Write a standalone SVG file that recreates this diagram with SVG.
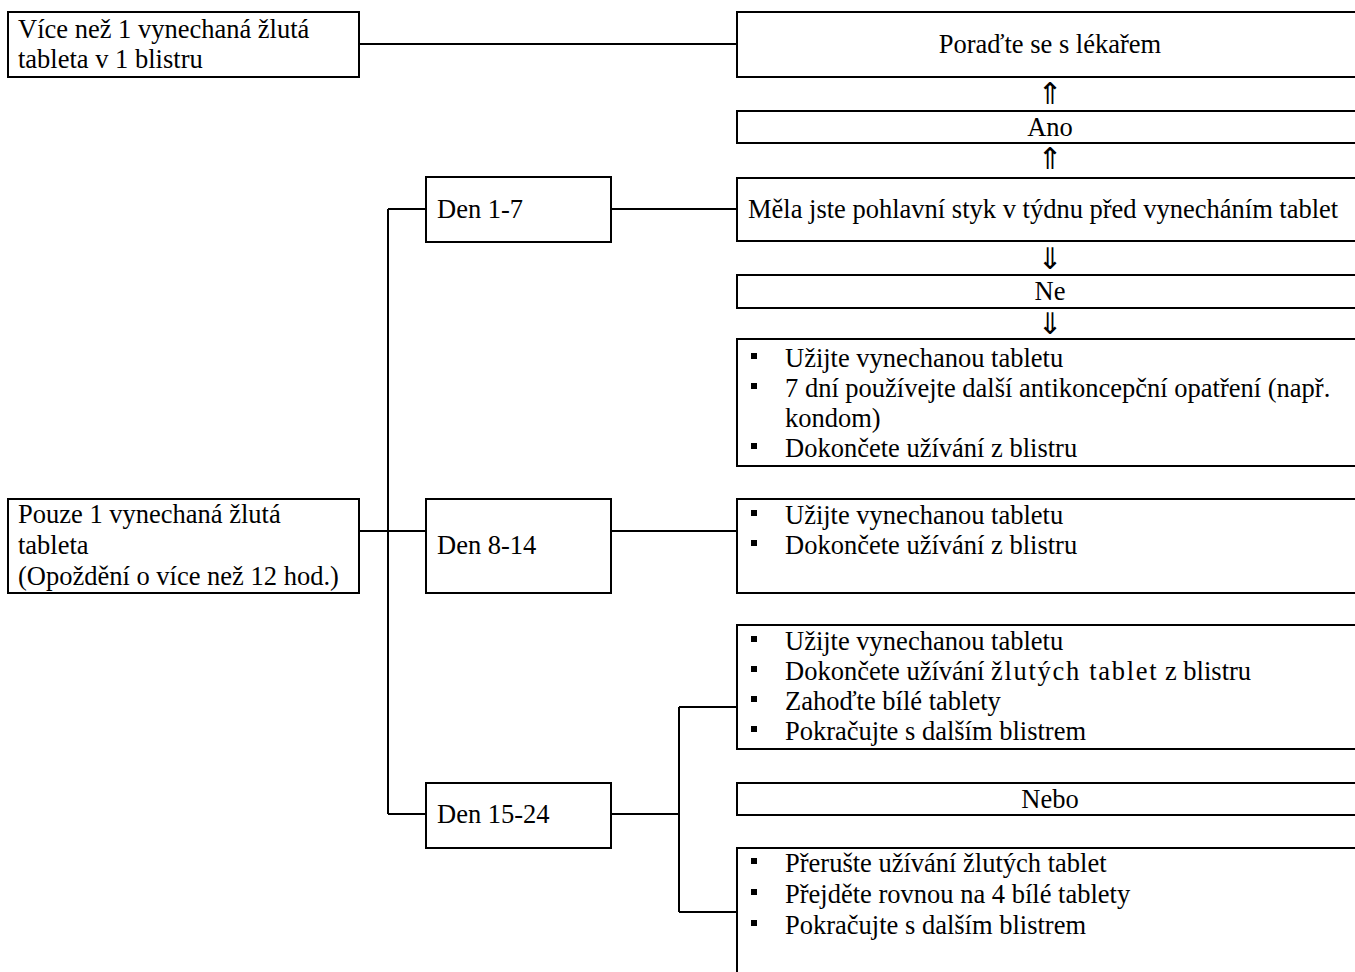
<svg xmlns="http://www.w3.org/2000/svg" width="1355" height="972" viewBox="0 0 1355 972">
<style>
.box{fill:#fff;stroke:#000;stroke-width:2}
.t{font-family:"Liberation Serif","Times New Roman",serif;font-size:26.5px;fill:#000}
.c{text-anchor:middle}
.arr{font-family:"DejaVu Sans",sans-serif;font-size:30px;fill:#000;text-anchor:middle}
.ln{stroke:#000;stroke-width:2;fill:none}
</style>
<defs>
<rect id="b" width="6" height="6" fill="#000"/>
</defs>
<rect width="1355" height="972" fill="#fff"/>
<g id="connectors">
<line class="ln" x1="359" y1="44" x2="737" y2="44"/>
<line class="ln" x1="388" y1="209" x2="388" y2="814"/>
<line class="ln" x1="388" y1="209" x2="426" y2="209"/>
<line class="ln" x1="359" y1="531" x2="426" y2="531"/>
<line class="ln" x1="388" y1="814" x2="426" y2="814"/>
<line class="ln" x1="611" y1="209" x2="737" y2="209"/>
<line class="ln" x1="611" y1="531" x2="737" y2="531"/>
<line class="ln" x1="611" y1="814" x2="679" y2="814"/>
<line class="ln" x1="679" y1="707" x2="679" y2="912"/>
<line class="ln" x1="679" y1="707" x2="737" y2="707"/>
<line class="ln" x1="679" y1="912" x2="737" y2="912"/>
</g>
<g id="n-more">
<rect class="box" x="8" y="12" width="351" height="65"/>
<text class="t" x="18" y="38">Více než 1 vynechaná žlutá</text>
<text class="t" x="18" y="68">tableta v 1 blistru</text>
</g>
<g id="n-doctor">
<rect class="box" x="737" y="12" width="640" height="65"/>
<text class="t c" x="1050" y="53">Poraďte se s lékařem</text>
</g>
<text class="arr" x="1050" y="104">⇑</text>
<g id="n-ano">
<rect class="box" x="737" y="111" width="640" height="32"/>
<text class="t c" x="1050" y="136">Ano</text>
</g>
<text class="arr" x="1050" y="169">⇑</text>
<g id="n-question">
<rect class="box" x="737" y="178" width="640" height="63"/>
<text class="t" x="748" y="218">Měla jste pohlavní styk v týdnu před vynecháním tablet</text>
</g>
<text class="arr" x="1050" y="269">⇓</text>
<g id="n-ne">
<rect class="box" x="737" y="275" width="640" height="33"/>
<text class="t c" x="1050" y="300">Ne</text>
</g>
<text class="arr" x="1050" y="334">⇓</text>
<g id="n-list1">
<rect class="box" x="737" y="339" width="640" height="127"/>
<use href="#b" x="751" y="353"/>
<text class="t" x="785" y="367">Užijte vynechanou tabletu</text>
<use href="#b" x="751" y="383"/>
<text class="t" x="785" y="397">7 dní používejte další antikoncepční opatření (např.</text>
<text class="t" x="785" y="427">kondom)</text>
<use href="#b" x="751" y="443"/>
<text class="t" x="785" y="457">Dokončete užívání z blistru</text>
</g>
<g id="n-d1">
<rect class="box" x="426" y="177" width="185" height="65"/>
<text class="t" x="437" y="218">Den 1-7</text>
</g>
<g id="n-only">
<rect class="box" x="8" y="499" width="351" height="94"/>
<text class="t" x="18" y="523">Pouze 1 vynechaná žlutá</text>
<text class="t" x="18" y="554">tableta</text>
<text class="t" x="18" y="585">(Opoždění o více než 12 hod.)</text>
</g>
<g id="n-d8">
<rect class="box" x="426" y="499" width="185" height="94"/>
<text class="t" x="437" y="554">Den 8-14</text>
</g>
<g id="n-list2">
<rect class="box" x="737" y="499" width="640" height="94"/>
<use href="#b" x="751" y="510"/>
<text class="t" x="785" y="524">Užijte vynechanou tabletu</text>
<use href="#b" x="751" y="540"/>
<text class="t" x="785" y="554">Dokončete užívání z blistru</text>
</g>
<g id="n-d15">
<rect class="box" x="426" y="783" width="185" height="65"/>
<text class="t" x="437" y="823">Den 15-24</text>
</g>
<g id="n-list3a">
<rect class="box" x="737" y="625" width="640" height="124"/>
<use href="#b" x="751" y="636"/>
<text class="t" x="785" y="650">Užijte vynechanou tabletu</text>
<use href="#b" x="751" y="666"/>
<text class="t" x="785" y="680">Dokončete užívání <tspan letter-spacing="1.7">žlutých tablet</tspan> z blistru</text>
<use href="#b" x="751" y="696"/>
<text class="t" x="785" y="710">Zahoďte bílé tablety</text>
<use href="#b" x="751" y="726"/>
<text class="t" x="785" y="740">Pokračujte s dalším blistrem</text>
</g>
<g id="n-nebo">
<rect class="box" x="737" y="783" width="640" height="32"/>
<text class="t c" x="1050" y="808">Nebo</text>
</g>
<g id="n-list3b">
<rect class="box" x="737" y="848" width="640" height="150"/>
<use href="#b" x="751" y="858"/>
<text class="t" x="785" y="872">Přerušte užívání žlutých tablet</text>
<use href="#b" x="751" y="889"/>
<text class="t" x="785" y="903">Přejděte rovnou na 4 bílé tablety</text>
<use href="#b" x="751" y="920"/>
<text class="t" x="785" y="934">Pokračujte s dalším blistrem</text>
</g>
</svg>
